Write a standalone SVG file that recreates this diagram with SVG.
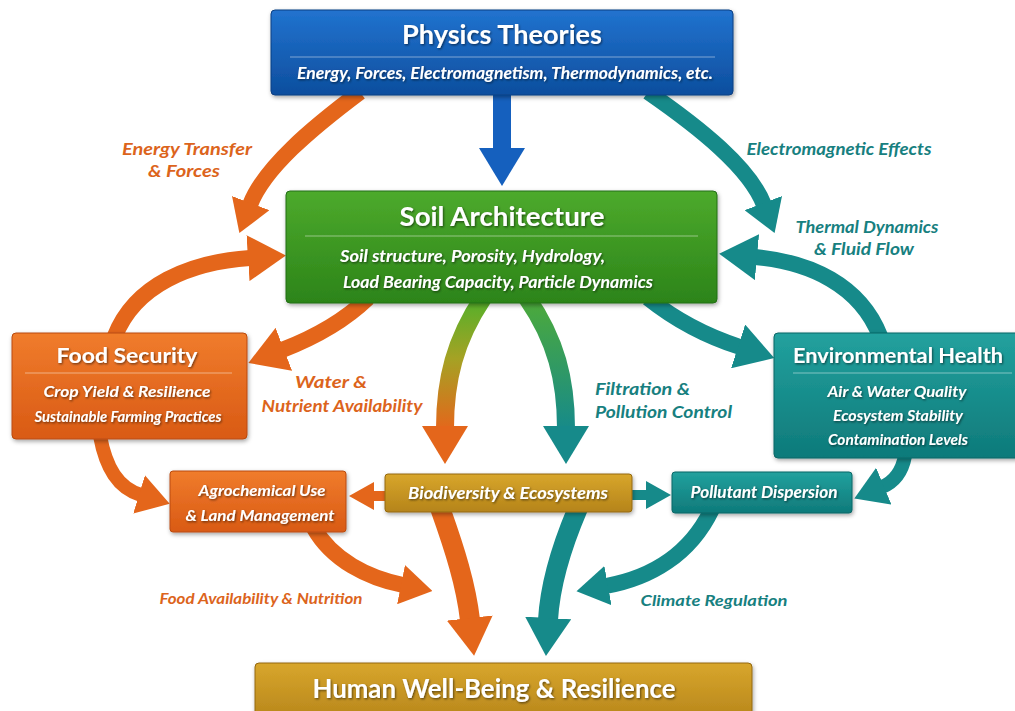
<svg xmlns="http://www.w3.org/2000/svg" width="1015" height="711" viewBox="0 0 1015 711">
  <defs>
    <style>
      text { font-family: Lato, "Open Sans", "Liberation Sans", sans-serif; font-weight: bold; }
      .title { fill: #ffffff; text-anchor: middle; filter: url(#tsh); }
      .sub { fill: #ffffff; font-style: italic; filter: url(#tsh); }
      .mid { text-anchor: middle; }
      .lo { fill: #DC641C; font-style: italic; }
      .lt { fill: #17807F; font-style: italic; }
      .box { filter: url(#bsh); }
      .div { stroke: #ffffff; stroke-opacity: 0.45; stroke-width: 1.2; }
      .arr { fill: none; stroke-linecap: butt; }
      .o { stroke: #E4661B; }
      .t { stroke: #168A8A; }
      .b { stroke: #1560BE; }
    </style>
    <filter id="bsh" x="-10%" y="-20%" width="120%" height="150%">
      <feDropShadow dx="1" dy="2" stdDeviation="2" flood-color="#000" flood-opacity="0.35"/>
    </filter>
    <filter id="tsh" x="-5%" y="-30%" width="110%" height="160%">
      <feDropShadow dx="1" dy="1.2" stdDeviation="0.8" flood-color="#000" flood-opacity="0.55"/>
    </filter>
    <linearGradient id="gBlue" x1="0" y1="0" x2="0" y2="1">
      <stop offset="0" stop-color="#2173CF"/><stop offset="1" stop-color="#0D4E9E"/>
    </linearGradient>
    <linearGradient id="gGreen" x1="0" y1="0" x2="0" y2="1">
      <stop offset="0" stop-color="#4DAA2C"/><stop offset="1" stop-color="#2C8419"/>
    </linearGradient>
    <linearGradient id="gOrange" x1="0" y1="0" x2="0" y2="1">
      <stop offset="0" stop-color="#F07C2C"/><stop offset="1" stop-color="#D95A14"/>
    </linearGradient>
    <linearGradient id="gTeal" x1="0" y1="0" x2="0" y2="1">
      <stop offset="0" stop-color="#22A19E"/><stop offset="1" stop-color="#0E7A7A"/>
    </linearGradient>
    <linearGradient id="gGold" x1="0" y1="0" x2="0" y2="1">
      <stop offset="0" stop-color="#D8A62C"/><stop offset="1" stop-color="#B5841A"/>
    </linearGradient>
    <linearGradient id="gGO" gradientUnits="userSpaceOnUse" x1="0" y1="300" x2="0" y2="430">
      <stop offset="0" stop-color="#55B02A"/><stop offset="0.45" stop-color="#A5A224"/><stop offset="1" stop-color="#E4661B"/>
    </linearGradient>
    <linearGradient id="gGT" gradientUnits="userSpaceOnUse" x1="0" y1="300" x2="0" y2="430">
      <stop offset="0" stop-color="#4DAA3A"/><stop offset="1" stop-color="#168A8A"/>
    </linearGradient>
    <marker id="bL" markerUnits="userSpaceOnUse" viewBox="0 0 38 46" markerWidth="38" markerHeight="46" refX="2" refY="23" orient="auto"><path d="M0,0 L38,23 L0,46 z" fill="#1560BE"/></marker>
    <marker id="oL" markerUnits="userSpaceOnUse" viewBox="0 0 38 46" markerWidth="38" markerHeight="46" refX="2" refY="23" orient="auto"><path d="M0,0 L38,23 L0,46 z" fill="#E4661B"/></marker>
    <marker id="tL" markerUnits="userSpaceOnUse" viewBox="0 0 38 46" markerWidth="38" markerHeight="46" refX="2" refY="23" orient="auto"><path d="M0,0 L38,23 L0,46 z" fill="#168A8A"/></marker>
    <marker id="oM" markerUnits="userSpaceOnUse" viewBox="0 0 32 40" markerWidth="32" markerHeight="40" refX="2" refY="20" orient="auto"><path d="M0,0 L32,20 L0,40 z" fill="#E4661B"/></marker>
    <marker id="tM" markerUnits="userSpaceOnUse" viewBox="0 0 32 40" markerWidth="32" markerHeight="40" refX="2" refY="20" orient="auto"><path d="M0,0 L32,20 L0,40 z" fill="#168A8A"/></marker>
    <marker id="oS" markerUnits="userSpaceOnUse" viewBox="0 0 25 28" markerWidth="25" markerHeight="28" refX="2" refY="14" orient="auto"><path d="M0,0 L25,14 L0,28 z" fill="#E4661B"/></marker>
    <marker id="tS" markerUnits="userSpaceOnUse" viewBox="0 0 25 28" markerWidth="25" markerHeight="28" refX="2" refY="14" orient="auto"><path d="M0,0 L25,14 L0,28 z" fill="#168A8A"/></marker>
  </defs>

  <rect width="1015" height="711" fill="#ffffff"/>

  <g id="connectors">
    <path class="arr b" stroke-width="18" d="M502,90 L502,150" marker-end="url(#bL)"/>
    <path class="arr o" stroke-width="16" d="M360,92 C312,128 264,168 250,205" marker-end="url(#oM)"/>
    <path class="arr t" stroke-width="16" d="M648,92 C700,128 750,168 764,205" marker-end="url(#tM)"/>
    <path class="arr o" stroke-width="16" d="M115,336 C135,285 190,262 250,258" marker-end="url(#oL)"/>
    <path class="arr t" stroke-width="16" d="M880,336 C860,285 810,262 755,257" marker-end="url(#tL)"/>
    <path class="arr o" stroke-width="16" d="M368,298 C340,325 308,340 282,350" marker-end="url(#oL)"/>
    <path class="arr t" stroke-width="16" d="M648,298 C678,322 712,338 740,347" marker-end="url(#tL)"/>
    <path class="arr" stroke="url(#gGO)" stroke-width="18" d="M483,298 C455,340 445,380 445,428" marker-end="url(#oL)"/>
    <path class="arr" stroke="url(#gGT)" stroke-width="18" d="M527,298 C556,340 566,380 566,428" marker-end="url(#tL)"/>
    <path class="arr o" stroke-width="14" d="M100,436 C106,468 118,488 141,495" marker-end="url(#oM)"/>
    <path class="arr t" stroke-width="14" d="M905,456 C902,472 894,482 882,487" marker-end="url(#tM)"/>
    <path class="arr o" stroke-width="10" d="M390,496 L372,496" marker-end="url(#oS)"/>
    <path class="arr t" stroke-width="10" d="M628,495 L648,495" marker-end="url(#tS)"/>
    <path class="arr o" stroke-width="16" d="M314,528 C332,560 368,578 403,585" marker-end="url(#oM)"/>
    <path class="arr o" stroke-width="20" d="M440,508 C455,550 466,585 470,620" marker-end="url(#oL)"/>
    <path class="arr t" stroke-width="20" d="M578,508 C560,550 550,585 548,620" marker-end="url(#tL)"/>
    <path class="arr t" stroke-width="16" d="M712,509 C690,555 650,578 606,586" marker-end="url(#tM)"/>
  </g>

  <g id="labels">
    <text class="lo mid" x="187" y="155" font-size="17" textLength="130" lengthAdjust="spacingAndGlyphs">Energy Transfer</text>
    <text class="lo mid" x="184" y="177" font-size="17" textLength="72" lengthAdjust="spacingAndGlyphs">&amp; Forces</text>
    <text class="lt mid" x="839" y="155" font-size="17" textLength="185" lengthAdjust="spacingAndGlyphs">Electromagnetic Effects</text>
    <text class="lt mid" x="867" y="233" font-size="17" textLength="143" lengthAdjust="spacingAndGlyphs">Thermal Dynamics</text>
    <text class="lt mid" x="864" y="255" font-size="17" textLength="100" lengthAdjust="spacingAndGlyphs">&amp; Fluid Flow</text>
    <text class="lo mid" x="331" y="388" font-size="17" textLength="72" lengthAdjust="spacingAndGlyphs">Water &amp;</text>
    <text class="lo mid" x="342" y="412" font-size="17" textLength="161" lengthAdjust="spacingAndGlyphs">Nutrient Availability</text>
    <text class="lt" x="595" y="395" font-size="17" textLength="95" lengthAdjust="spacingAndGlyphs">Filtration &amp;</text>
    <text class="lt" x="595" y="418" font-size="17" textLength="137" lengthAdjust="spacingAndGlyphs">Pollution Control</text>
    <text class="lo mid" x="261" y="604" font-size="15" textLength="203" lengthAdjust="spacingAndGlyphs">Food Availability &amp; Nutrition</text>
    <text class="lt mid" x="714" y="606" font-size="16" textLength="147" lengthAdjust="spacingAndGlyphs">Climate Regulation</text>
  </g>

  <g id="physics">
    <rect class="box" x="271" y="10" width="462" height="85" rx="4" fill="url(#gBlue)" stroke="#0B3F82" stroke-width="1"/>
    <line class="div" x1="290" y1="57" x2="715" y2="57"/>
    <text class="title" x="502" y="44" font-size="26" textLength="200" lengthAdjust="spacingAndGlyphs">Physics Theories</text>
    <text class="sub mid" x="505" y="79" font-size="17" textLength="416" lengthAdjust="spacingAndGlyphs">Energy, Forces, Electromagnetism, Thermodynamics, etc.</text>
  </g>

  <g id="soil">
    <rect class="box" x="286" y="191" width="431" height="112" rx="4" fill="url(#gGreen)" stroke="#226E14" stroke-width="1"/>
    <line class="div" x1="305" y1="236" x2="698" y2="236"/>
    <text class="title" x="502" y="226" font-size="26" textLength="205" lengthAdjust="spacingAndGlyphs">Soil Architecture</text>
    <text class="sub" x="340" y="262" font-size="17" textLength="265" lengthAdjust="spacingAndGlyphs">Soil structure, Porosity, Hydrology,</text>
    <text class="sub" x="343" y="288" font-size="17" textLength="310" lengthAdjust="spacingAndGlyphs">Load Bearing Capacity, Particle Dynamics</text>
  </g>

  <g id="food">
    <rect class="box" x="12" y="333" width="235" height="106" rx="4" fill="url(#gOrange)" stroke="#B94A10" stroke-width="1"/>
    <line class="div" x1="25" y1="373" x2="232" y2="373"/>
    <text class="title" x="127" y="363" font-size="21" textLength="141" lengthAdjust="spacingAndGlyphs">Food Security</text>
    <text class="sub mid" x="127" y="397" font-size="16" textLength="167" lengthAdjust="spacingAndGlyphs">Crop Yield &amp; Resilience</text>
    <text class="sub mid" x="128" y="422" font-size="15" textLength="187" lengthAdjust="spacingAndGlyphs">Sustainable Farming Practices</text>
  </g>

  <g id="environment">
    <rect class="box" x="774" y="333" width="250" height="125" rx="4" fill="url(#gTeal)" stroke="#0B6666" stroke-width="1"/>
    <line class="div" x1="793" y1="373" x2="1012" y2="373"/>
    <text class="title" x="898" y="363" font-size="21" textLength="210" lengthAdjust="spacingAndGlyphs">Environmental Health</text>
    <text class="sub mid" x="897" y="397" font-size="16" textLength="139" lengthAdjust="spacingAndGlyphs">Air &amp; Water Quality</text>
    <text class="sub mid" x="898" y="421" font-size="16" textLength="130" lengthAdjust="spacingAndGlyphs">Ecosystem Stability</text>
    <text class="sub mid" x="898" y="445" font-size="16" textLength="140" lengthAdjust="spacingAndGlyphs">Contamination Levels</text>
  </g>

  <g id="agrochemical">
    <rect class="box" x="170" y="471" width="176" height="61" rx="3" fill="url(#gOrange)" stroke="#B94A10" stroke-width="1"/>
    <text class="sub mid" x="262" y="496" font-size="16" textLength="127" lengthAdjust="spacingAndGlyphs">Agrochemical Use</text>
    <text class="sub mid" x="260" y="521" font-size="16" textLength="149" lengthAdjust="spacingAndGlyphs">&amp; Land Management</text>
  </g>

  <g id="biodiversity">
    <rect class="box" x="385" y="474" width="247" height="38" rx="3" fill="url(#gGold)" stroke="#94680F" stroke-width="1"/>
    <text class="sub mid" x="508" y="499" font-size="17" textLength="200" lengthAdjust="spacingAndGlyphs">Biodiversity &amp; Ecosystems</text>
  </g>

  <g id="pollutant">
    <rect class="box" x="672" y="472" width="180" height="41" rx="3" fill="url(#gTeal)" stroke="#0B6666" stroke-width="1"/>
    <text class="sub mid" x="764" y="498" font-size="17" textLength="147" lengthAdjust="spacingAndGlyphs">Pollutant Dispersion</text>
  </g>

  <g id="wellbeing">
    <rect class="box" x="255" y="663" width="497" height="60" rx="4" fill="url(#gGold)" stroke="#94680F" stroke-width="1"/>
    <text class="title" x="494" y="698" font-size="26" textLength="363" lengthAdjust="spacingAndGlyphs">Human Well-Being &amp; Resilience</text>
  </g>
</svg>
